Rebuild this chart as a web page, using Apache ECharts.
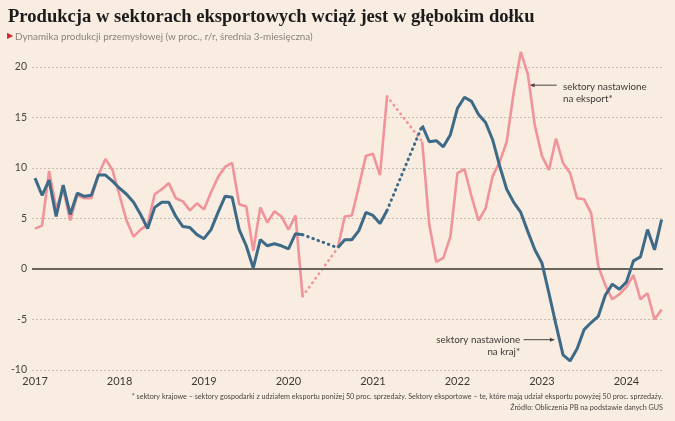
<!DOCTYPE html>
<html><head><meta charset="utf-8">
<script src="https://cdn.jsdelivr.net/npm/echarts@6/dist/echarts.min.js"></script>
<style>html,body{margin:0;padding:0;background:#f9ece1}#c{width:675px;height:421px}</style>
</head><body><div id="c"></div>
<script>
// x index: months since Jan 2017 (0 = Jan 2017, 89 = Jun 2024)
const yearLabels = ['2017','2018','2019','2020','2021','2022','2023','2024'];
const yTicks = [-10,-5,0,5,10,15,20];
// sektory nastawione na eksport (pink)
const exportSectors = [
 4.0,4.3,9.7,6.0,7.9,4.8,7.3,7.0,7.0,9.3,10.9,9.8,
 7.3,4.8,3.2,3.9,4.4,7.4,7.9,8.5,7.0,6.7,5.8,6.5,
 5.9,7.6,9.1,10.1,10.5,6.4,6.2,1.8,6.1,4.6,5.7,5.2,
 3.9,5.3,-2.7,null,null,null,null,2.1,5.2,5.3,8.2,11.2,
 11.4,9.3,17.1,null,null,null,null,12.6,4.4,0.7,1.1,3.2,
 9.5,9.9,7.2,4.8,6.0,9.2,10.6,12.6,17.5,21.5,19.3,14.2,
 11.2,9.8,12.9,10.5,9.5,7.0,6.9,5.5,0.3,-1.6,-3.0,-2.5,
 -1.8,-0.6,-3.0,-2.4,-5.0,-4.0
];
// sektory nastawione na kraj (blue)
const domesticSectors = [
 9.0,7.3,8.8,5.2,8.3,5.4,7.5,7.2,7.3,9.3,9.3,8.7,
 8.0,7.4,6.6,5.4,4.0,6.1,6.6,6.6,5.2,4.2,4.1,3.4,
 3.0,3.9,5.6,7.2,7.1,3.9,2.3,0.1,2.9,2.3,2.5,2.3,
 2.0,3.5,3.4,null,null,null,null,2.1,2.9,2.9,3.8,5.6,
 5.3,4.5,5.8,null,null,null,null,14.2,12.6,12.7,12.1,13.3,
 15.9,17.0,16.6,15.3,14.5,12.8,10.2,7.9,6.6,5.6,3.7,1.9,
 0.6,-2.4,-5.5,-8.5,-9.1,-7.9,-6.0,-5.3,-4.7,-2.6,-1.5,-2.0,
 -1.3,0.8,1.2,3.9,1.9,4.9
];
// pandemic gaps bridged with dotted lines [start, end]
const gaps = [[38,43],[50,55]];

const PINK = '#f0939a', BLUE = '#3c6a87';
function solid(arr){ return arr.map((v,i)=>[i, v]); }
function dotted(arr){
  const out = [];
  gaps.forEach(g=>{ out.push([g[0], arr[g[0]]]); out.push([g[1], arr[g[1]]]); out.push([g[1], null]); });
  return out;
}

const chart = echarts.init(document.getElementById('c'), null, {renderer:'canvas'});
const option = {
  backgroundColor: '#f9ece1',
  animation: false,
  grid: {left: 32, right: 12, top: 67, bottom: 51},
  xAxis: {
    type: 'value', min: -0.43, max: 89.2,
    axisLine: {show: false}, axisTick: {show: false}, splitLine: {show: false},
    axisLabel: {
      customValues: yearLabels.map((y,k)=>k*12),
      formatter: v => yearLabels[Math.round(v/12)],
      color: '#3f3a36', fontFamily: 'Lato', fontSize: 11, margin: 6
    }
  },
  yAxis: {
    type: 'value', min: -10, max: 20, interval: 5,
    axisLine: {show: false}, axisTick: {show: false},
    axisLabel: {color: '#4a4541', fontFamily: 'Lato', fontSize: 10.5, margin: 5},
    splitLine: {lineStyle: {color: '#c5bbb0', type: [2,2], width: 1}}
  },
  series: [
    {type: 'line', data: dotted(exportSectors), showSymbol: false, connectNulls: false, clip: false,
     lineStyle: {color: PINK, width: 2.6, type: [0.5, 5], cap: 'round'}, z: 2},
    {type: 'line', data: solid(exportSectors), showSymbol: false, connectNulls: false, clip: false,
     lineStyle: {color: PINK, width: 2.6}, z: 3,
     markLine: {silent: true, symbol: 'none', label: {show: false},
       lineStyle: {color: '#6b645b', width: 2, type: 'solid'}, data: [{yAxis: 0}]}},
    {type: 'line', data: dotted(domesticSectors), showSymbol: false, connectNulls: false, clip: false,
     lineStyle: {color: BLUE, width: 3, type: [0.5, 5], cap: 'round'}, z: 4},
    {type: 'line', data: solid(domesticSectors), showSymbol: false, connectNulls: false, clip: false,
     lineStyle: {color: BLUE, width: 3}, z: 5}
  ]
};
chart.setOption(option);

// annotations anchored in data coordinates
function px(x, y){ return chart.convertToPixel({gridIndex: 0}, [x, y]); }
const aE1 = px(70.4, 18.2), aE2 = px(74.1, 18.2), tE = px(75.0, 18.6);
const aK1 = px(69.4, -7.0), aK2 = px(73.7, -7.0), tK = px(68.9, -6.4);
const annFont = {fontFamily: 'Lato', fontSize: 9.8, fill: '#3f3a36', lineHeight: 12};
const footFont = {fontFamily: 'Lato', fontSize: 7.2, fill: '#4a4541', align: 'right', verticalAlign: 'middle'};
chart.setOption({
  graphic: [
    {type: 'text', left: 8, top: 8, style: {text: 'Produkcja w sektorach eksportowych wciąż jest w głębokim dołku',
      fontFamily: 'Liberation Serif', fontWeight: 'bold', fontSize: 18.6, fill: '#1b1b1b'}},
    {type: 'text', left: 7, top: 32, style: {text: '▶', fontFamily: 'DejaVu Sans', fontSize: 8, fill: '#d4232b'}},
    {type: 'text', left: 15, top: 32, style: {text: 'Dynamika produkcji przemysłowej (w proc., r/r, średnia 3-miesięczna)',
      fontFamily: 'Lato', fontSize: 9.9, fill: '#8a837c'}},
    {type: 'line', shape: {x1: aE1[0], y1: aE1[1], x2: aE2[0], y2: aE2[1]}, style: {stroke: '#4a4541', lineWidth: 1}},
    {type: 'polygon', shape: {points: [[aE1[0]-1, aE1[1]], [aE1[0]+4, aE1[1]-2], [aE1[0]+4, aE1[1]+2]]}, style: {fill: '#4a4541'}},
    {type: 'text', x: tE[0], y: tE[1], style: Object.assign({text: 'sektory nastawione\nna eksport*', verticalAlign: 'top', align: 'left'}, annFont)},
    {type: 'line', shape: {x1: aK1[0], y1: aK1[1], x2: aK2[0], y2: aK2[1]}, style: {stroke: '#4a4541', lineWidth: 1}},
    {type: 'polygon', shape: {points: [[aK2[0]+1, aK2[1]], [aK2[0]-4, aK2[1]-2], [aK2[0]-4, aK2[1]+2]]}, style: {fill: '#4a4541'}},
    {type: 'text', x: tK[0], y: tK[1], style: Object.assign({text: 'sektory nastawione\nna kraj*', verticalAlign: 'top', align: 'right'}, annFont)},
    {type: 'text', x: 663, y: 397, style: Object.assign({text: '* sektory krajowe – sektory gospodarki z udziałem eksportu poniżej 50 proc. sprzedaży. Sektory eksportowe – te, które mają udział eksportu powyżej 50 proc. sprzedaży.'}, footFont)},
    {type: 'text', x: 663, y: 408, style: Object.assign({text: 'Źródło: Obliczenia PB na podstawie danych GUS'}, footFont)}
  ]
});
</script></body></html>
